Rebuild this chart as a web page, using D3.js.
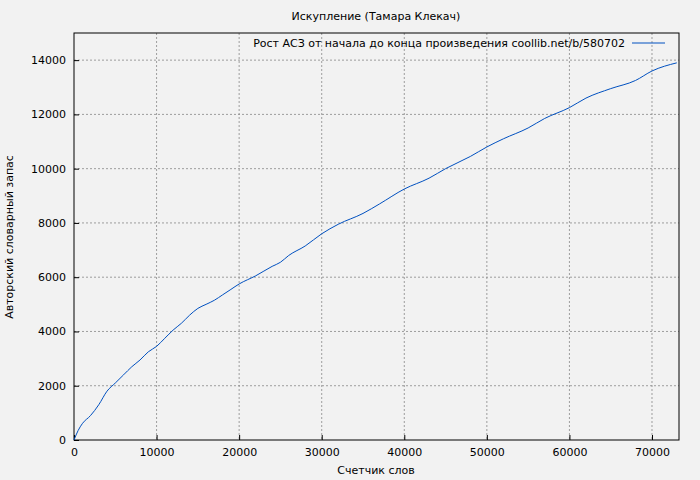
<!DOCTYPE html>
<html><head><meta charset="utf-8">
<script src="https://cdn.jsdelivr.net/npm/d3@7"></script>
<style>body{margin:0;background:#f2f2f2}svg{font-family:"DejaVu Sans",sans-serif}</style>
</head><body><svg id="c" width="700" height="480"></svg>
<script>
const title = "Искупление (Тамара Клекач)";
const legendLabel = "Рост АСЗ от начала до конца произведения coollib.net/b/580702";
const xLabel = "Счетчик слов", yLabel = "Авторский словарный запас";
const words = [0,500,1000,2000,3000,4000,5000,6000,7000,8000,9000,10000,11000,12000,13000,14000,15000,16000,17000,18000,19000,20000,22000,24000,25000,26000,28000,30000,32000,35000,37000,40000,43000,45000,48000,50000,52000,55000,57000,60000,62000,65000,68000,70000,73000];
const vocab = [0,350,600,900,1300,1800,2100,2400,2700,2950,3250,3450,3750,4050,4300,4600,4850,5000,5150,5350,5550,5750,6050,6400,6550,6800,7150,7600,7950,8350,8700,9250,9650,10000,10450,10800,11100,11500,11850,12250,12600,12950,13250,13600,13900];
const xTicks = [0,10000,20000,30000,40000,50000,60000,70000];
const yTicks = [0,2000,4000,6000,8000,10000,12000,14000];

const svg = d3.select("#c");
const L=74,R=679,T=33,B=440;
const x = d3.scaleLinear().domain([0,73270]).range([L,R]);
const y = d3.scaleLinear().domain([0,15000]).range([B,T]);
const g = svg.append("g");
xTicks.forEach(t=>{ if(t>0) g.append("line").attr("x1",x(t)).attr("x2",x(t)).attr("y1",T).attr("y2",B).attr("stroke","#888").attr("stroke-dasharray","2,2").attr("stroke-width",0.8);});
yTicks.forEach(t=>{ if(t>0) g.append("line").attr("x1",L).attr("x2",R).attr("y1",y(t)).attr("y2",y(t)).attr("stroke","#888").attr("stroke-dasharray","2,2").attr("stroke-width",0.8);});
const xa = svg.append("g").attr("transform",`translate(0,${B})`).call(d3.axisBottom(x).tickValues(xTicks).tickFormat(d3.format("d")).tickSize(-5).tickPadding(8));
const ya = svg.append("g").attr("transform",`translate(${L},0)`).call(d3.axisLeft(y).tickValues(yTicks).tickFormat(d3.format("d")).tickSize(-5).tickPadding(8));
[xa,ya].forEach(a=>{a.selectAll("text").attr("font-size",11).attr("fill","#000").attr("font-family","DejaVu Sans");a.select(".domain").remove();a.selectAll("line").attr("stroke","#000");});
svg.append("rect").attr("x",L).attr("y",T).attr("width",R-L).attr("height",B-T).attr("fill","none").attr("stroke","#000");
svg.append("path").datum(words.map((w,i)=>[w,vocab[i]])).attr("fill","none").attr("stroke","#0050c0").attr("stroke-width",1)
  .attr("d",d3.line().x(d=>x(d[0])).y(d=>y(d[1])).curve(d3.curveMonotoneX));
svg.append("text").attr("x",376).attr("y",20).attr("text-anchor","middle").attr("font-size",11).text(title);
svg.append("text").attr("x",625).attr("y",47).attr("text-anchor","end").attr("font-size",11).text(legendLabel);
svg.append("line").attr("x1",632).attr("x2",665).attr("y1",43).attr("y2",43).attr("stroke","#0050c0");
svg.append("text").attr("x",376).attr("y",474).attr("text-anchor","middle").attr("font-size",11).text(xLabel);
svg.append("text").attr("transform","translate(13,237) rotate(-90)").attr("text-anchor","middle").attr("font-size",11).text(yLabel);
</script></body></html>
